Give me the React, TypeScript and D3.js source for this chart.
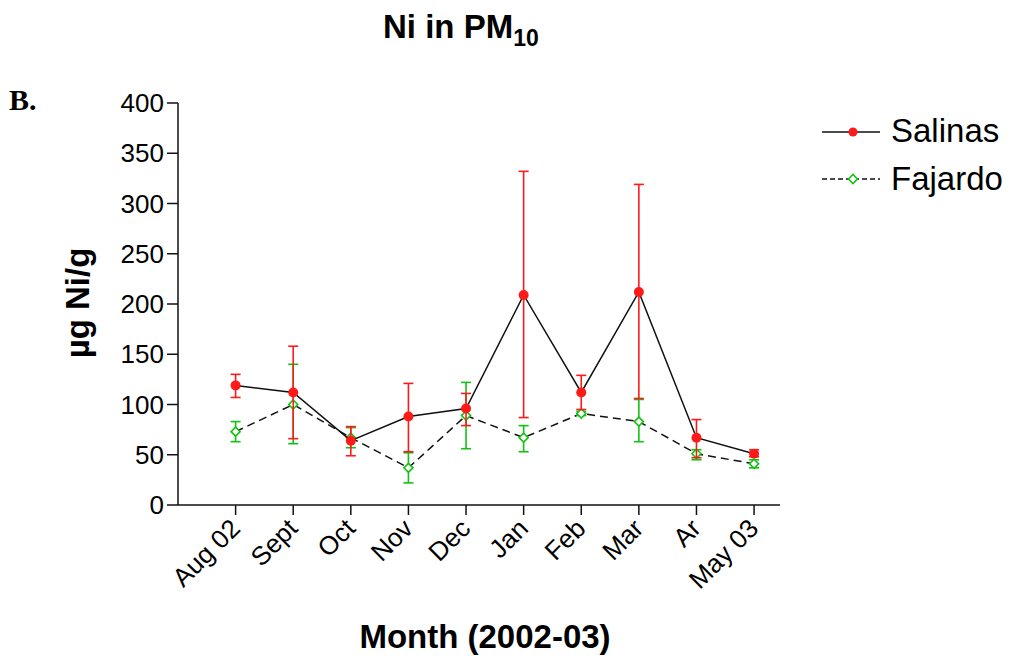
import React from 'react';
import * as d3 from 'd3';

// data
const months = ['Aug 02', 'Sept', 'Oct', 'Nov', 'Dec', 'Jan', 'Feb', 'Mar', 'Ar', 'May 03'];
const salinas = [119, 112, 64, 88, 96, 209, 112, 212, 67, 51];
const salinasHi = [130, 158, 78, 121, 111, 332, 129, 319, 85, 55];
const salinasLo = [107, 66, 49, 53, 79, 87, 95, 106, 47, 48];
const fajardo = [73, 100, 67, 37, 89, 67, 91, 83, 51, 41];
const fajardoHi = [83, 140, 77, 52, 122, 79, 93, 105, 55, 45];
const fajardoLo = [63, 61, 57, 22, 56, 53, 89, 63, 45, 37];
const yTicks = [0, 50, 100, 150, 200, 250, 300, 350, 400];

const FONT = '"Liberation Sans", Arial, Helvetica, sans-serif';
const RED = '#ff1a1a';
const GREEN = '#12c212';

const App = () => {
  const width = 1011;
  const height = 662;

  const x = d3.scaleLinear().domain([-1, 9.45]).range([178, 780]);
  const y = d3.scaleLinear().domain([0, 400]).range([505, 103]);

  const line = d3
    .line<number>()
    .x((d, i) => x(i))
    .y(d => y(d));

  const errorBars = (vals: number[], hi: number[], lo: number[], color: string) =>
    vals.map((v, i) => (
      <g key={i} stroke={color} strokeWidth={1.6}>
        <line x1={x(i)} x2={x(i)} y1={y(hi[i])} y2={y(lo[i])} />
        <line x1={x(i) - 5} x2={x(i) + 5} y1={y(hi[i])} y2={y(hi[i])} />
        <line x1={x(i) - 5} x2={x(i) + 5} y1={y(lo[i])} y2={y(lo[i])} />
      </g>
    ));

  const diamond = (cx: number, cy: number, key?: number) => (
    <path
      key={key}
      d={`M${cx},${cy - 4.5}L${cx + 4.5},${cy}L${cx},${cy + 4.5}L${cx - 4.5},${cy}Z`}
      fill="white"
      stroke={GREEN}
      strokeWidth={1.6}
    />
  );

  return (
    <svg
      width={width}
      height={height}
      style={{ position: 'absolute', left: 0, top: 0, background: 'white' }}
      fontFamily={FONT}
    >
      {/* title */}
      <text x={383} y={38} fontSize={33} fontWeight="bold">
        Ni in PM
        <tspan fontSize={23} dy={8}>10</tspan>
      </text>
      <text x={9} y={110} fontSize={30} fontWeight="bold" fontFamily='"Liberation Serif", "Times New Roman", serif'>
        B.
      </text>

      {/* y axis */}
      <line x1={178} x2={178} y1={y(400)} y2={y(0)} stroke="#111" strokeWidth={1.5} />
      {yTicks.map(t => (
        <g key={t}>
          <line x1={167} x2={178} y1={y(t)} y2={y(t)} stroke="#111" strokeWidth={1.5} />
          <text x={164} y={y(t)} dy="0.35em" textAnchor="end" fontSize={26}>
            {t}
          </text>
        </g>
      ))}
      <text
        transform={`translate(89,303) rotate(-90)`}
        textAnchor="middle"
        fontSize={33}
        fontWeight="bold"
      >
        µg Ni/g
      </text>

      {/* x axis */}
      <line x1={178} x2={780} y1={y(0)} y2={y(0)} stroke="#111" strokeWidth={1.5} />
      {months.map((m, i) => (
        <g key={m}>
          <line x1={x(i)} x2={x(i)} y1={y(0)} y2={y(0) + 10} stroke="#111" strokeWidth={1.5} />
          <text
            transform={`translate(${x(i) + 6},${y(0) + 25}) rotate(-45)`}
            textAnchor="end"
            fontSize={26}
          >
            {m}
          </text>
        </g>
      ))}
      <text x={485} y={648} textAnchor="middle" fontSize={33} fontWeight="bold">
        Month (2002-03)
      </text>

      {/* Fajardo */}
      <path d={line(fajardo) ?? ''} fill="none" stroke="#111" strokeWidth={1.5} strokeDasharray="8,5" />
      {errorBars(fajardo, fajardoHi, fajardoLo, GREEN)}
      {fajardo.map((v, i) => diamond(x(i), y(v), i))}

      {/* Salinas */}
      <path d={line(salinas) ?? ''} fill="none" stroke="#111" strokeWidth={1.5} />
      {errorBars(salinas, salinasHi, salinasLo, RED)}
      {salinas.map((v, i) => (
        <circle key={i} cx={x(i)} cy={y(v)} r={5} fill={RED} />
      ))}

      {/* legend */}
      <line x1={822} x2={880} y1={132} y2={132} stroke="#111" strokeWidth={1.5} />
      <circle cx={853} cy={132} r={4.5} fill={RED} />
      <text x={891} y={142} fontSize={33}>
        Salinas
      </text>
      <line x1={822} x2={880} y1={179} y2={179} stroke="#111" strokeWidth={1.5} strokeDasharray="5,3" />
      {diamond(853, 179)}
      <text x={891} y={190} fontSize={33}>
        Fajardo
      </text>
    </svg>
  );
};

export default App;
